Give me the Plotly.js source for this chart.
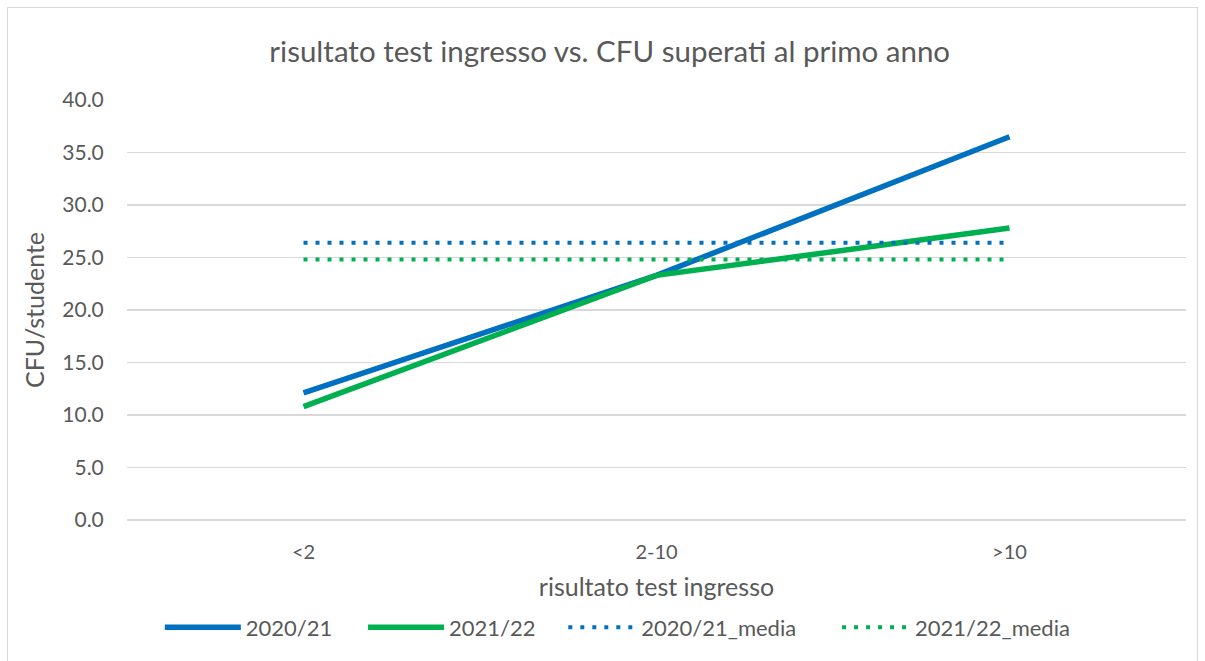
<!DOCTYPE html>
<html>
<head>
<meta charset="utf-8">
<script src="https://cdn.plot.ly/plotly-3.0.1.min.js"></script>
<style>
html,body{margin:0;padding:0;background:#fff;}
#frame{position:absolute;left:7px;top:7px;width:1191px;height:660px;border:1px solid #d9d9d9;box-sizing:border-box;}
#chart{position:absolute;left:0;top:0;width:1205px;height:661px;}
</style>
</head>
<body>
<div id="frame"></div>
<div id="chart"></div>
<script>
var categories = ["<2", "2-10", ">10"];
var s2020 = [12.1, 23.3, 36.5];
var s2021 = [10.8, 23.3, 27.8];
var media2020 = [26.4, 26.4, 26.4];
var media2021 = [24.8, 24.8, 24.8];
var seriesNames = ["2020/21", "2021/22", "2020/21_media", "2021/22_media"];
var yTicks = [0, 5, 10, 15, 20, 25, 30, 35, 40];

var blue = "#0070C0", green = "#00B050";
var traces = [
  {x: categories, y: s2020, name: seriesNames[0], mode: "lines", line: {color: blue, width: 5.5}, legend: "legend"},
  {x: categories, y: s2021, name: seriesNames[1], mode: "lines", line: {color: green, width: 5.5}, legend: "legend2"},
  {x: categories, y: media2020, name: seriesNames[2], mode: "lines", line: {color: blue, width: 4, dash: "4px,8px"}, legend: "legend3"},
  {x: categories, y: media2021, name: seriesNames[3], mode: "lines", line: {color: green, width: 4, dash: "4px,8px"}, legend: "legend4"}
];
var fontFam = "Lato, 'Noto Sans', sans-serif";
var txt = "#595959";
function leg(x, w) {
  return {orientation: "h", x: x, xanchor: "left", y: -0.256, yanchor: "middle", font: {size: 22, color: txt}, itemwidth: w, bgcolor: "rgba(0,0,0,0)"};
}
var layout = {
  width: 1205, height: 661,
  paper_bgcolor: "rgba(0,0,0,0)", plot_bgcolor: "rgba(0,0,0,0)",
  margin: {l: 127, r: 19, t: 100, b: 139},
  font: {family: fontFam, color: txt, size: 20},
  title: {text: "risultato test ingresso vs. CFU superati al primo anno", font: {size: 29.5, color: txt, family: fontFam}, x: 0.506, xanchor: "center", y: 0.922, yanchor: "middle"},
  xaxis: {
    type: "category", range: [-0.5, 2.5], showgrid: false, zeroline: false,
    showline: false, ticks: "outside", ticklen: 14, tickcolor: "rgba(0,0,0,0)",
    tickfont: {size: 20, color: txt},
    title: {text: "risultato test ingresso", font: {size: 25, color: txt}, standoff: 16}
  },
  yaxis: {
    range: [0, 40], tickvals: yTicks, ticktext: yTicks.map(function(v){return v.toFixed(1);}),
    showgrid: true, gridcolor: "#d9d9d9", gridwidth: 1.5, zeroline: true, zerolinecolor: "#d9d9d9", zerolinewidth: 1.5,
    showline: false, ticks: "outside", ticklen: 18, tickcolor: "rgba(0,0,0,0)",
    tickfont: {size: 21, color: txt},
    title: {text: "CFU/studente", font: {size: 25, color: txt}, standoff: 10}
  },
  showlegend: true,
  legend: leg(0.031, 76),
  legend2: leg(0.2229, 76),
  legend3: leg(0.412, 68),
  legend4: leg(0.6705, 68)
};
Plotly.newPlot("chart", traces, layout, {displayModeBar: false, staticPlot: true});
</script>
</body>
</html>
